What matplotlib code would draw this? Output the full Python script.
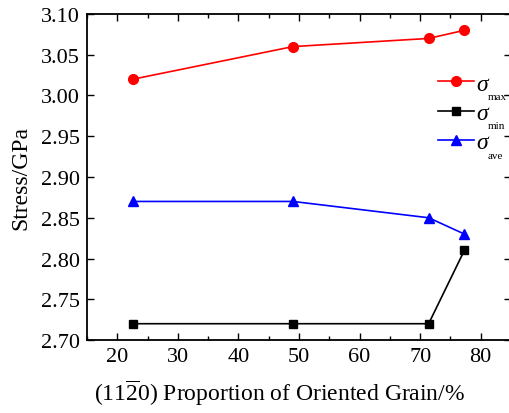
import matplotlib
matplotlib.use("Agg")
import matplotlib.pyplot as plt
from matplotlib.ticker import MultipleLocator, FormatStrFormatter

plt.rcParams['font.family'] = ['Liberation Serif', 'DejaVu Serif']
plt.rcParams['mathtext.fontset'] = 'custom'
plt.rcParams['mathtext.rm'] = 'Liberation Serif'
plt.rcParams['mathtext.it'] = 'Liberation Serif:italic'

proportion = [22.6, 49.0, 71.4, 77.3]
sigma_max = [3.02, 3.06, 3.07, 3.08]
sigma_min = [2.72, 2.72, 2.72, 2.81]
sigma_ave = [2.87, 2.87, 2.85, 2.83]
subscripts = ['max', 'min', 'ave']

fig = plt.figure(figsize=(5.10, 4.14), dpi=100)
ax = fig.add_axes([0.1706, 0.1763, 0.8314, 0.7875])

ax.plot(proportion, sigma_max, color='#ff0000', marker='o', ms=7, lw=1.2, label=r'$\sigma$')
ax.plot(proportion, sigma_min, color='black', marker='s', ms=6, lw=1.2, label=r'$\sigma$')
ax.plot(proportion, sigma_ave, color='#0000ff', marker='^', ms=7.5, lw=1.2, label=r'$\sigma$')

ax.set_xlim(15, 85)
ax.set_ylim(2.70, 3.10)
ax.xaxis.set_major_locator(MultipleLocator(10))
ax.xaxis.set_minor_locator(MultipleLocator(5))
ax.yaxis.set_major_locator(MultipleLocator(0.05))
ax.yaxis.set_major_formatter(FormatStrFormatter('%.2f'))
ax.tick_params(which='both', direction='in', top=True, right=True, labelsize=16, width=1.0)
ax.tick_params(which='major', length=5, pad=5)
ax.tick_params(which='minor', length=3)
for s in ax.spines.values():
    s.set_linewidth(1.3)

ax.set_xlabel(r'(11$\mathregular{\overline{2}}$0) Proportion of Oriented Grain/%', fontsize=17, labelpad=10)
ax.xaxis.set_label_coords(0.455, -0.115)
ax.set_ylabel('Stress/GPa', fontsize=17, labelpad=7)

leg = ax.legend(loc='upper left', bbox_to_anchor=(0.859, 0.821), bbox_transform=fig.transFigure,
                frameon=False, fontsize=17, handlelength=1.5, labelspacing=0.33,
                handletextpad=0.1, borderpad=0, borderaxespad=0)

# subscripts placed next to each legend sigma
fig.canvas.draw()
renderer = fig.canvas.get_renderer()
inv = fig.transFigure.inverted()
for t, sub in zip(leg.get_texts(), subscripts):
    bb = t.get_window_extent(renderer)
    x, y = inv.transform((bb.x1 - 3, bb.y0 - 2))
    fig.text(x, y, sub, fontsize=8, ha='left', va='center')

fig.savefig('out.png', dpi=100)
